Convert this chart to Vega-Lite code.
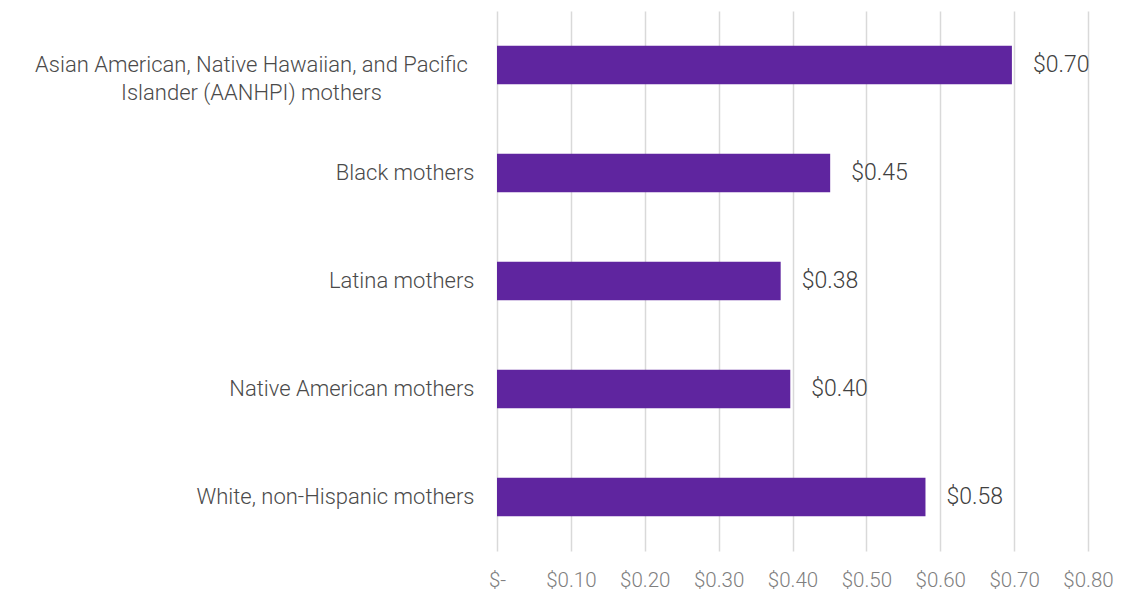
{
  "$schema": "https://vega.github.io/schema/vega-lite/v6.json",
  "width": 591,
  "height": 540,
  "autosize": {"type": "none"},
  "padding": {"left": 497, "top": 11, "right": 55, "bottom": 56},
  "background": "white",
  "config": {"view": {"stroke": null}, "font": "Roboto"},
  "data": {
    "values": [
      {"group": "Asian American, Native Hawaiian, and Pacific Islander (AANHPI) mothers", "value": 0.697},
      {"group": "Black mothers", "value": 0.451},
      {"group": "Latina mothers", "value": 0.384},
      {"group": "Native American mothers", "value": 0.397},
      {"group": "White, non-Hispanic mothers", "value": 0.58}
    ]
  },
  "encoding": {
    "y": {
      "field": "group",
      "type": "nominal",
      "sort": null,
      "title": null,
      "scale": {"paddingInner": 0.645, "paddingOuter": 0.3225},
      "axis": {
        "domain": false,
        "ticks": false,
        "labelFont": "Roboto",
        "labelFontSize": 22,
        "labelFontWeight": 300,
        "labelColor": "#4a4a4a",
        "labelLimit": 600,
        "labelLineHeight": 28,
        "labelAlign": {"condition": {"test": "indexof(datum.label, 'AANHPI') >= 0", "value": "center"}, "value": "right"},
        "labelPadding": {"condition": {"test": "indexof(datum.label, 'AANHPI') >= 0", "value": 246}, "value": 23},
        "labelExpr": "indexof(datum.label, 'AANHPI') >= 0 ? ['Asian American, Native Hawaiian, and Pacific', 'Islander (AANHPI) mothers'] : datum.label"
      }
    },
    "x": {
      "field": "value",
      "type": "quantitative",
      "title": null,
      "scale": {"domain": [0, 0.8], "nice": false},
      "axis": {
        "values": [0, 0.1, 0.2, 0.3, 0.4, 0.5, 0.6, 0.7, 0.8],
        "labelExpr": "datum.value == 0 ? '$-' : format(datum.value, '$.2f')",
        "domain": false,
        "ticks": false,
        "grid": true,
        "gridColor": "#d9d9d9",
        "gridWidth": 1.5,
        "labelFont": "Roboto",
        "labelFontWeight": 300,
        "labelFontSize": 20.5,
        "labelColor": "#7f7f7f",
        "labelPadding": 19,
        "labelBaseline": "top",
        "labelFlush": false,
        "labelOverlap": false,
        "labelBound": false
      }
    }
  },
  "layer": [
    {"mark": {"type": "bar", "color": "#5F259F"}},
    {
      "mark": {"type": "text", "align": "left", "baseline": "middle", "dx": 21, "fontSize": 23, "color": "#404040", "font": "Roboto", "fontWeight": 300},
      "encoding": {"text": {"field": "value", "type": "quantitative", "format": "$.2f"}}
    }
  ]
}
